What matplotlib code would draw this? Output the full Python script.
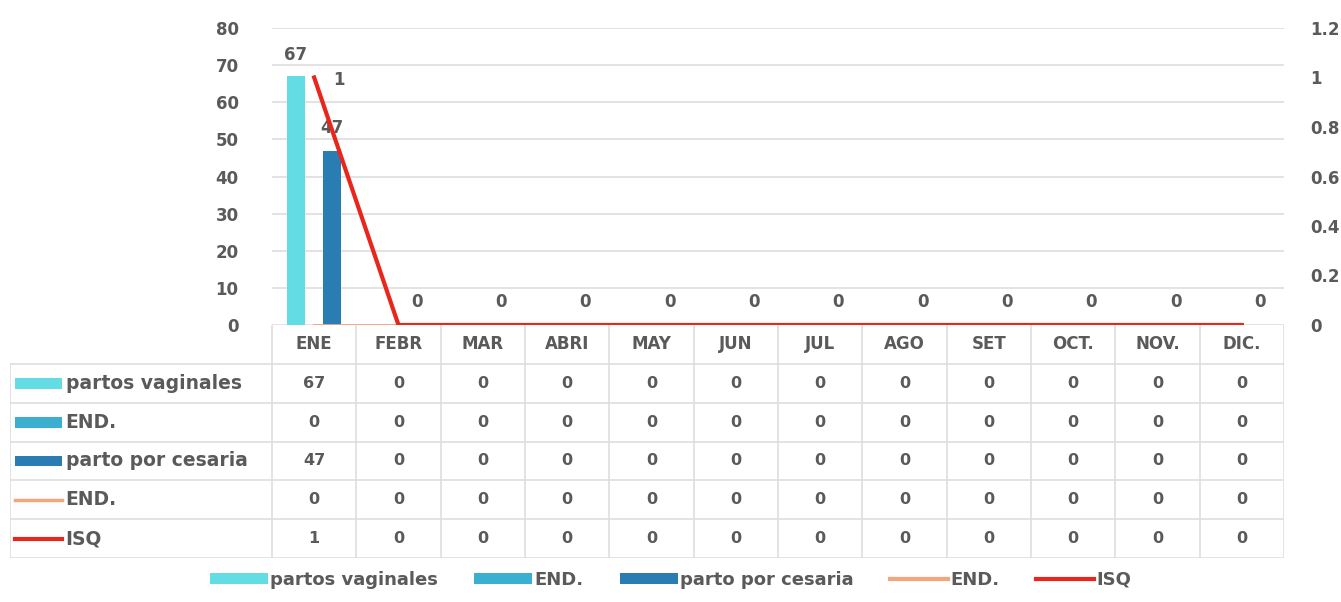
import numpy as np
import matplotlib.pyplot as plt
from matplotlib.patches import Rectangle, Patch
from matplotlib.lines import Line2D

plt.rcParams['font.family'] = ['DejaVu Sans']
plt.rcParams['font.weight'] = 'bold'

# --- data ---
months = ["ENE", "FEBR", "MAR", "ABRI", "MAY", "JUN", "JUL", "AGO", "SET", "OCT.", "NOV.", "DIC."]
partos_vaginales = [67, 0, 0, 0, 0, 0, 0, 0, 0, 0, 0, 0]
end_bar = [0, 0, 0, 0, 0, 0, 0, 0, 0, 0, 0, 0]
parto_cesaria = [47, 0, 0, 0, 0, 0, 0, 0, 0, 0, 0, 0]
end_line = [0, 0, 0, 0, 0, 0, 0, 0, 0, 0, 0, 0]
isq = [1, 0, 0, 0, 0, 0, 0, 0, 0, 0, 0, 0]

series_names = ["partos vaginales", "END.", "parto por cesaria", "END.", "ISQ"]
series_values = [partos_vaginales, end_bar, parto_cesaria, end_line, isq]
series_kind = ["bar", "bar", "bar", "line", "line"]
colors = ["#63DCE3", "#3BAFD0", "#2A7DB3", "#F4A57C", "#E8261C"]

txt = "#5A5A5A"
grid_c = "#DEDEDE"

W, H = 1341, 602
fig = plt.figure(figsize=(W / 100, H / 100), dpi=100)

# plot area in pixels
px_l, px_r, px_t, px_b = 272, 1284, 28, 325
ax = fig.add_axes([px_l / W, 1 - px_b / H, (px_r - px_l) / W, (px_b - px_t) / H])
x = np.arange(len(months))
bw = 0.215

for k, off in zip(range(3), (-bw, 0, bw)):
    ax.bar(x + off, series_values[k], width=bw, color=colors[k], zorder=2)

ax.set_xlim(-0.5, len(months) - 0.5)
ax.set_ylim(0, 80)
ax.set_yticks(np.arange(0, 81, 10))
ax.set_xticks([])
ax.grid(axis='y', color=grid_c, lw=1.2, zorder=0)
ax.tick_params(axis='y', length=0, pad=24, labelsize=12, labelcolor=txt)
for s in ax.spines.values():
    s.set_visible(False)

# bar labels
for i in x:
    if partos_vaginales[i] > 0:
        ax.annotate(str(partos_vaginales[i]), (i - bw, partos_vaginales[i]), xytext=(0, 9),
                    textcoords='offset points', ha='center', va='bottom', fontsize=12, color=txt)
    ax.annotate(str(parto_cesaria[i]), (i + bw, parto_cesaria[i]), xytext=(0, 10),
                textcoords='offset points', ha='center', va='bottom', fontsize=12, color=txt)

ax2 = ax.twinx()
ax2.plot(x, end_line, color=colors[3], lw=2, zorder=3)
ax2.plot(x, isq, color=colors[4], lw=3, zorder=4)
ax2.set_ylim(0, 1.2)
ax2.set_yticks(np.arange(0, 1.21, 0.2))
ax2.set_yticklabels(["0", "0.2", "0.4", "0.6", "0.8", "1", "1.2"])
ax2.tick_params(axis='y', length=0, pad=19, labelsize=12, labelcolor=txt)
for s in ax2.spines.values():
    s.set_visible(False)
for i in x:
    if isq[i] > 0:
        ax2.annotate(str(isq[i]), (i, isq[i]), xytext=(18, -2), textcoords='offset points',
                     ha='center', va='center', fontsize=12, color=txt)

# --- data table below ---
tb_l, tb_t, tb_b = 10, px_b, 558
cat_w = (px_r - px_l) / len(months)
left_units = (px_l - tb_l) / cat_w
tax = fig.add_axes([tb_l / W, 1 - tb_b / H, (px_r - tb_l) / W, (tb_b - tb_t) / H])
n_rows = len(series_names) + 1
tax.set_xlim(-0.5 - left_units, len(months) - 0.5)
tax.set_ylim(n_rows, 0)
tax.axis('off')

lk = dict(color=grid_c, lw=1.2)
# vertical lines between months
for j in range(len(months) + 1):
    tax.plot([j - 0.5, j - 0.5], [0, n_rows], **lk)
tax.plot([-0.5 - left_units] * 2, [1, n_rows], **lk)
for r in range(1, n_rows + 1):
    tax.plot([-0.5 - left_units, len(months) - 0.5], [r, r], **lk)

for j, m in enumerate(months):
    tax.text(j, 0.5, m, ha='center', va='center', fontsize=12, color=txt)

x0 = -0.5 - left_units
for r, (name, vals, kind, c) in enumerate(zip(series_names, series_values, series_kind, colors), start=1):
    if kind == "bar":
        tax.add_patch(Rectangle((x0 + 0.06, r + 0.37), 0.56, 0.27, color=c, lw=0))
    else:
        tax.plot([x0 + 0.06, x0 + 0.62], [r + 0.5, r + 0.5], color=c, lw=3 if name == "ISQ" else 2.5)
    tax.text(x0 + 0.66, r + 0.5, name, ha='left', va='center', fontsize=13.5, color=txt)
    for j, v in enumerate(vals):
        tax.text(j, r + 0.5, str(v), ha='center', va='center', fontsize=11.5, color=txt)

# --- bottom legend ---
handles = []
for name, kind, c in zip(series_names, series_kind, colors):
    if kind == "bar":
        handles.append(Patch(facecolor=c, edgecolor='none', label=name))
    else:
        handles.append(Line2D([0], [0], color=c, lw=3, label=name))
leg = fig.legend(handles=handles, loc='lower center', bbox_to_anchor=(0.5, -0.005), ncol=5,
                 frameon=False, fontsize=13, handlelength=3.2, handleheight=0.6,
                 handletextpad=0.15, columnspacing=2.0)
for t in leg.get_texts():
    t.set_color(txt)

fig.savefig("out.png", dpi=100, facecolor='white')
